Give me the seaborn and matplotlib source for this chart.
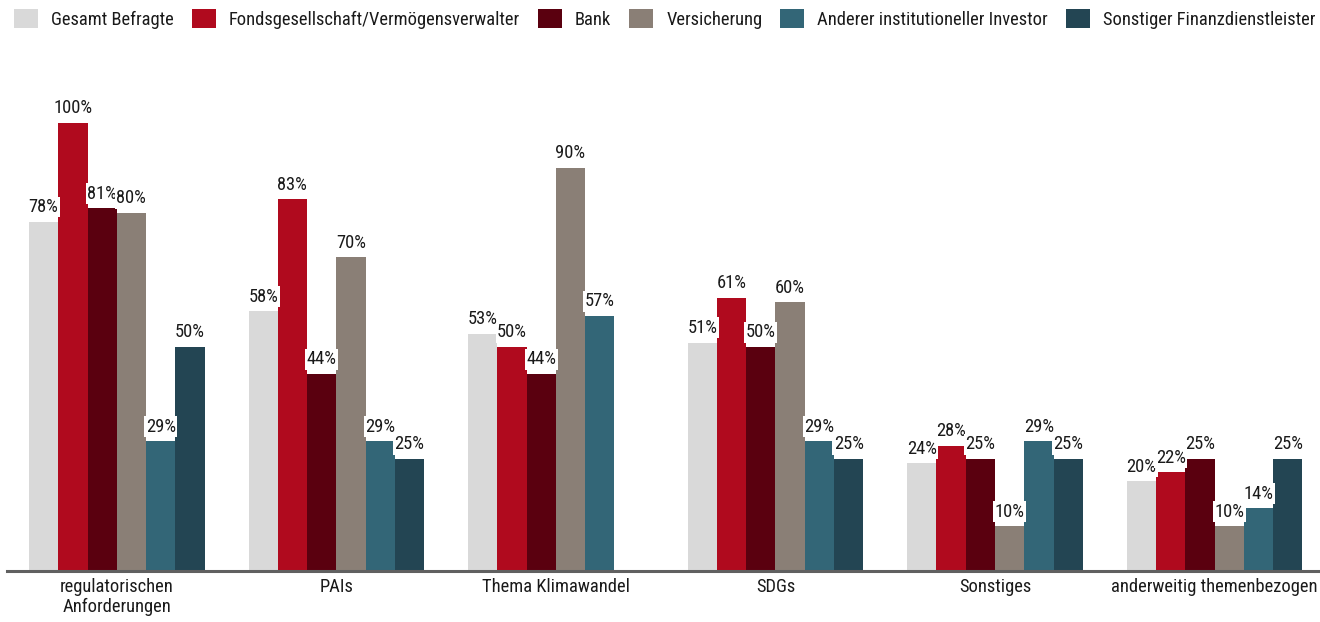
import os
import pandas as pd
import numpy as np
import seaborn as sns
import matplotlib.pyplot as plt
from matplotlib import font_manager as fm
from matplotlib.textpath import TextPath

# categories and series values (percent)
categories = ["regulatorischen\nAnforderungen", "PAIs", "Thema Klimawandel",
              "SDGs", "Sonstiges", "anderweitig themenbezogen"]
series_names = ["Gesamt Befragte", "Fondsgesellschaft/Vermögensverwalter", "Bank",
                "Versicherung", "Anderer institutioneller Investor",
                "Sonstiger Finanzdienstleister"]
gesamt = [78, 58, 53, 51, 24, 20]
fonds = [100, 83, 50, 61, 28, 22]
bank = [81, 44, 44, 50, 25, 25]
versicherung = [80, 70, 90, 60, 10, 10]
anderer = [29, 29, 57, 29, 29, 14]
sonstiger = [50, 25, 0, 25, 25, 25]

colors = ["#d9d9d9", "#b00a1e", "#5a000f", "#8a7f76", "#336677", "#234553"]


def pick_font():
    # look for a narrow / condensed regular face, else fall back to Liberation Sans
    bad = ("bold", "italic", "oblique", "light", "medium", "black", "thin", "semi", "extra", "heavy")
    found = []
    for f in fm.fontManager.ttflist:
        base = os.path.basename(f.fname).lower()
        if ("narrow" in base or "condensed" in base) and not any(b in base for b in bad):
            found.append(f.fname)
    for key in ["liberationsansnarrow", "arialn", "robotocondensed", "notosans", "opensans", "dejavu"]:
        for p in found:
            if key in os.path.basename(p).lower().replace("-", "").replace("_", ""):
                return fm.FontProperties(fname=p)
    if found:
        return fm.FontProperties(fname=found[0])
    return fm.FontProperties(family="Liberation Sans")


sns.set_style("white")
plt.rcParams['font.family'] = ['Liberation Sans', 'DejaVu Sans']

fp = pick_font()
# scale font so the longest legend entry is about 291 px wide, as in the reference
w = TextPath((0, 0), "Fondsgesellschaft/Vermögensverwalter", size=100, prop=fp).get_extents().width
fs = min(14.5, 100 * (289 * 0.72) / w)
fp.set_size(fs)
em = fs * 100 / 72

rows = []
for name, vals in zip(series_names, [gesamt, fonds, bank, versicherung, anderer, sonstiger]):
    for cat, v in zip(categories, vals):
        rows.append({"Kategorie": cat, "Gruppe": name, "Wert": v / 100})
df = pd.DataFrame(rows)

fig = plt.figure(figsize=(13.2, 6.22), dpi=100)
ax = fig.add_axes([7 / 1320, 51 / 622, 1313 / 1320, 1.1 * 448 / 622])

sns.barplot(data=df, x="Kategorie", y="Wert", hue="Gruppe", order=categories,
            hue_order=series_names, palette=colors, saturation=1, width=0.8,
            linewidth=0, ax=ax)

for cont, vals in zip(ax.containers, [gesamt, fonds, bank, versicherung, anderer, sonstiger]):
    labels = [f"{v}%" if v > 0 else "" for v in vals]
    ax.bar_label(cont, labels=labels, padding=4, fontproperties=fp, color="#1a1a1a",
                 bbox=dict(facecolor="white", edgecolor="none", pad=1.0))

ax.set_xlim(-0.5, 5.48)
ax.set_ylim(0, 1.1)
ax.set_xlabel("")
ax.set_ylabel("")
ax.set_yticks([])
for s in ["left", "right", "top"]:
    ax.spines[s].set_visible(False)
ax.spines["bottom"].set_color("#606060")
ax.spines["bottom"].set_linewidth(2.2)
ax.tick_params(axis="x", length=0, pad=5, labelcolor="#1a1a1a")
for lbl in ax.get_xticklabels():
    lbl.set_fontproperties(fp)
    lbl.set_linespacing(1.15)

handles, labs = ax.get_legend_handles_labels()
ax.legend_.remove()
fig.legend(handles, labs, loc="upper left", bbox_to_anchor=(14 / 1320, 1 - 9 / 622),
           ncol=6, frameon=False, prop=fp, handlelength=24 / em, handleheight=22 / em,
           handletextpad=13 / em, columnspacing=18 / em, borderpad=0, borderaxespad=0,
           labelcolor="#1a1a1a")

fig.savefig("out.png", dpi=100)
